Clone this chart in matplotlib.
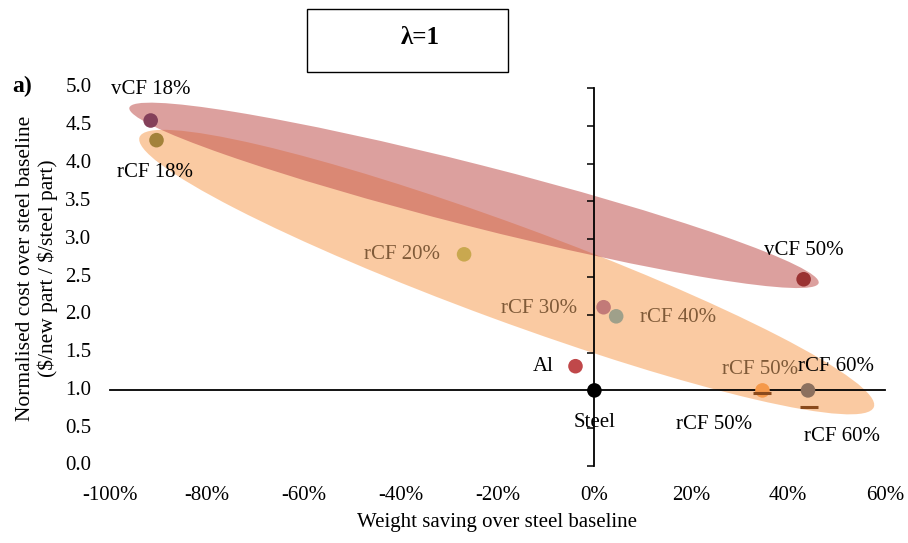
import numpy as np
import matplotlib.pyplot as plt
from matplotlib.patches import Ellipse, Rectangle
from matplotlib.transforms import IdentityTransform, blended_transform_factory

plt.rcParams['font.family'] = ['Liberation Serif', 'DejaVu Serif']

# ---- data (weight saving %, normalised cost) ----
names = ['vCF 18%', 'rCF 18%', 'rCF 20%', 'rCF 30%', 'rCF 40%', 'Al', 'Steel',
         'rCF 50%', 'rCF 60%', 'vCF 50%']
saving = [-91.6, -90.4, -26.9, 1.9, 4.5, -3.9, 0.0, 34.7, 44.1, 43.2]
cost = [4.57, 4.31, 2.80, 2.10, 1.98, 1.32, 1.00, 1.00, 1.00, 2.47]
colors = ['#84405a', '#a3823a', '#c9a84f', '#c27a78', '#9fa08a', '#c0484a', '#000000',
          '#f5994a', '#8c705e', '#9a3232']
label_colors = ['black', 'black', '#7f5a38', '#7f5a38', '#7f5a38', 'black', 'black',
                '#7f5a38', 'black', 'black']
# label offsets (points) and alignment
offsets = [(0, 22), (-1, -23), (-17, 0), (-19, -1), (17, -1), (-16, 0), (0, -23),
           (-2, 15), (20, 17), (0, 21)]
aligns = ['center', 'center', 'right', 'right', 'left', 'right', 'center',
          'center', 'center', 'center']

# second series (short dash markers)
dash_names = ['rCF 50%', 'rCF 60%']
dash_saving = [34.7, 44.3]
dash_cost = [0.97, 0.78]
dash_offsets = [(-35, -23), (24, -21)]

# highlight ellipses: tips in data coords, thickness in pixels
pink_tips = [(-96.0, 4.74), (46.3, 2.42)]
orange_tips = [(-93.9, 4.35), (57.7, 0.78)]

xticks = [-100, -80, -60, -40, -20, 0, 20, 40, 60]
yticks = [0.0, 0.5, 1.0, 1.5, 2.0, 2.5, 3.0, 3.5, 4.0, 4.5, 5.0]

fig = plt.figure(figsize=(9.08, 5.43), dpi=100)
ax = fig.add_axes([110 / 908, 1 - 466 / 543, 775 / 908, 378 / 543])
ax.set_xlim(-100, 60)
ax.set_ylim(0, 5)

# axes crossing at x=0 and y=1
for s in ['top', 'right']:
    ax.spines[s].set_visible(False)
ax.spines['left'].set_position(('data', 0))
ax.spines['bottom'].set_position(('data', 1))
ax.spines['left'].set_linewidth(1.3)
ax.spines['bottom'].set_linewidth(1.3)
ax.set_xticks(xticks)
ax.set_yticks(yticks)
ax.tick_params(axis='x', length=0, labelbottom=False)
ax.tick_params(axis='y', length=5, width=1.1, direction='out', labelleft=False)

fs = 15
ytr = blended_transform_factory(ax.transAxes, ax.transData)
for v in yticks:
    ax.text(-0.024, v, f'{v:.1f}', transform=ytr, ha='right', va='center', fontsize=fs)
xtr = blended_transform_factory(ax.transData, ax.transAxes)
for v in xticks:
    ax.text(v, -0.078, f'{v}%', transform=xtr, ha='center', va='center', fontsize=fs)

fig.text(497 / 908, 1 - 523 / 543, 'Weight saving over steel baseline', ha='center',
         va='center', fontsize=fs)
fig.text(37 / 908, 1 - 268 / 543,
         'Normalised cost over steel baseline\n(\\$/new part / \\$/steel part)',
         ha='center', va='center', rotation=90, fontsize=15.5, linespacing=1.1)
fig.text(22 / 908, 1 - 86 / 543, 'a)', ha='center', va='center', fontsize=17, fontweight='bold')

# title box
fig.patches.append(Rectangle((307 / 908, 1 - 72 / 543), 201 / 908, 63 / 543, fill=False,
                             edgecolor='black', linewidth=1.0, transform=fig.transFigure))
fig.text(420 / 908, 1 - 37 / 543, 'λ=1', ha='center', va='center', fontsize=18, fontweight='bold')


def add_ellipse(tips, thick, color, alpha):
    p = ax.transData.transform(tips)
    c = p.mean(axis=0)
    d = p[1] - p[0]
    length = np.hypot(*d)
    ang = np.degrees(np.arctan2(d[1], d[0]))
    ax.add_patch(Ellipse(c, length, thick, angle=ang, facecolor=color, alpha=alpha,
                         edgecolor='none', transform=IdentityTransform(), zorder=1))


add_ellipse(orange_tips, 96, '#f79646', 0.5)
add_ellipse(pink_tips, 62, '#c0504d', 0.54)

ax.scatter(saving, cost, s=110, c=colors, zorder=4, linewidths=0, clip_on=False)
ax.scatter(dash_saving, dash_cost, s=160, marker='_', c='#8a4a1c', linewidths=2.2, zorder=4)

for n, x, y, col, off, ha in zip(names, saving, cost, label_colors, offsets, aligns):
    ax.annotate(n, (x, y), xytext=off, textcoords='offset points', ha=ha, va='center',
                fontsize=fs, color=col, zorder=5)
for n, x, y, off in zip(dash_names, dash_saving, dash_cost, dash_offsets):
    ax.annotate(n, (x, y), xytext=off, textcoords='offset points', ha='center', va='center',
                fontsize=fs, color='black', zorder=5)

fig.savefig('out.png', dpi=100)
